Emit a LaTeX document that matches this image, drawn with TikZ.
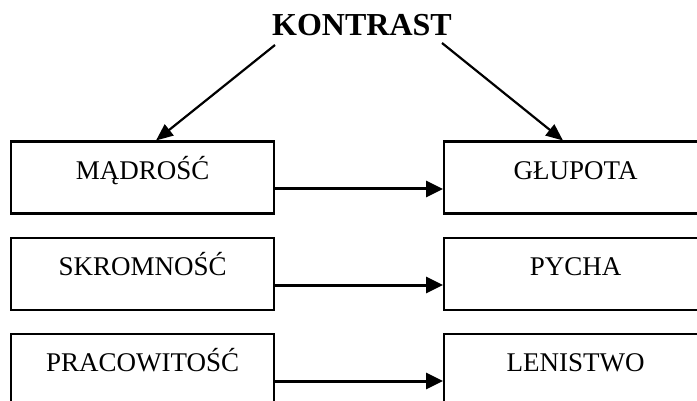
\documentclass[tikz,border=0pt]{standalone}
\usepackage{fontspec}
\setmainfont{Liberation Serif}
\usetikzlibrary{arrows.meta,calc}
\tikzset{
  wordbox/.style={draw=black, line width=2.2pt, inner sep=0pt, text width=263pt, align=center,
    text height=37.5pt, text depth=34.5pt, font=\fontsize{27}{30}\selectfont},
  title/.style={inner sep=0pt, font=\fontsize{32}{36}\selectfont\bfseries},
  diag/.style={line width=2.2pt, -{Triangle[length=17pt,width=14pt]}},
  horiz/.style={line width=3pt, -{Triangle[length=17pt,width=16pt]}}
}
\begin{document}
\begin{tikzpicture}[x=1pt,y=-1pt]
\clip (0,0) rectangle (697,401);
\fill[white] (0,0) rectangle (697,401);
\node[title, anchor=base] (k) at (362,36) {KONTRAST};
\coordinate (kl) at (275,45);
\coordinate (kr) at (442,43);
\node[wordbox, anchor=north west] (m) at (10,140.5) {MĄDROŚĆ};
\node[wordbox, anchor=north west] (g) at (443,140.5) {GŁUPOTA};
\node[wordbox, anchor=north west] (s) at (10,237) {SKROMNOŚĆ};
\node[wordbox, anchor=north west] (p) at (443,237) {PYCHA};
\node[wordbox, anchor=north west] (r) at (10,333) {PRACOWITOŚĆ};
\node[wordbox, anchor=north west] (l) at (443,333) {LENISTWO};
\draw[diag] (kl) -- ([xshift=146pt]m.north west);
\draw[diag] (kr) -- ([xshift=120pt]g.north west);
\draw[horiz] ([yshift=-48.5pt]m.north east) -- ([yshift=-48.5pt]g.north west);
\draw[horiz] ([yshift=-48pt]s.north east) -- ([yshift=-48pt]p.north west);
\draw[horiz] ([yshift=-48pt]r.north east) -- ([yshift=-48pt]l.north west);
\end{tikzpicture}
\end{document}
